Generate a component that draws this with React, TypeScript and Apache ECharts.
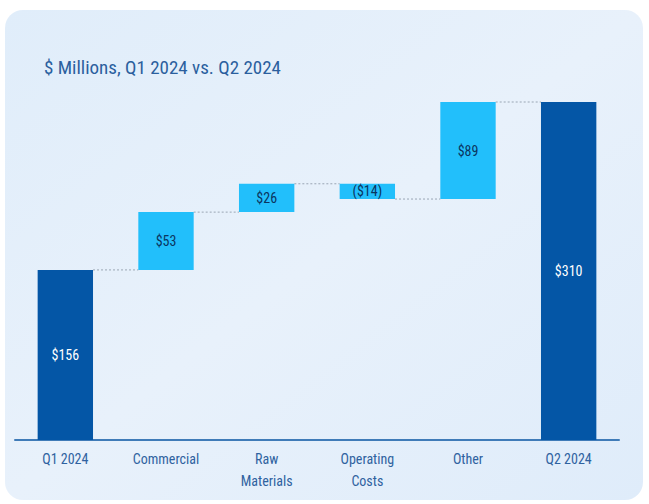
import React, { useEffect, useRef } from "react";
import * as echarts from "echarts";

const categories = ["Q1 2024", "Commercial", "Raw\nMaterials", "Operating\nCosts", "Other", "Q2 2024"];
const deltas = [156, 53, 26, -14, 89, 310];
const labels = ["$156", "$53", "$26", "($14)", "$89", "$310"];
const isTotal = [true, false, false, false, false, true];

const FONT = "'Liberation Sans Narrow', 'Roboto Condensed', 'Liberation Sans', sans-serif";

export default function App() {
  const ref = useRef<HTMLDivElement>(null);
  useEffect(() => {
    if (!ref.current) return;
    const chart = echarts.init(ref.current, undefined, { renderer: "svg" });
    const base: number[] = [];
    const vis: number[] = [];
    const levels: number[] = [];
    let run = 0;
    deltas.forEach((d, i) => {
      if (isTotal[i]) {
        base.push(0);
        vis.push(d);
        run = d;
      } else if (d >= 0) {
        base.push(run);
        vis.push(d);
        run += d;
      } else {
        base.push(run + d);
        vis.push(-d);
        run += d;
      }
      levels.push(run);
    });
    const dark = "#0456a6";
    const light = "#22bffb";
    const barRatio = 0.55;
    chart.setOption({
      animation: false,
      grid: { left: 15, right: 30, top: 102, bottom: 64 },
      graphic: [
        {
          type: "rect",
          z: -10,
          silent: true,
          shape: { x: 5, y: 10, width: 638, height: 490, r: 18 },
          style: {
            fill: new echarts.graphic.LinearGradient(0, 0, 1, 1, [
              { offset: 0, color: "#e0edfa" },
              { offset: 0.5, color: "#e8f1fb" },
              { offset: 1, color: "#dfecfa" },
            ]),
          },
        },
        {
          type: "text",
          left: 44,
          top: 58,
          style: {
            text: "$ Millions, Q1 2024 vs. Q2 2024",
            fill: "#2b5f9e",
            font: `19px ${FONT}`,
          },
        },
      ],
      xAxis: {
        type: "category",
        data: categories,
        axisLine: { lineStyle: { color: "#3f7bb8", width: 2 } },
        axisTick: { show: false },
        axisLabel: {
          color: "#2f62a0",
          fontSize: 14,
          fontFamily: FONT,
          lineHeight: 22,
          margin: 8,
          interval: 0,
        },
      },
      yAxis: {
        type: "value",
        min: 0,
        max: 310,
        show: false,
        splitLine: { show: false },
      },
      series: [
        {
          type: "bar",
          stack: "w",
          data: base,
          itemStyle: { color: "transparent" },
          barWidth: `${barRatio * 100}%`,
          silent: true,
        },
        {
          type: "bar",
          stack: "w",
          barWidth: `${barRatio * 100}%`,
          data: vis.map((v, i) => ({
            value: v,
            itemStyle: { color: isTotal[i] ? dark : light },
            label: {
              show: true,
              position: "inside",
              formatter: labels[i],
              color: isTotal[i] ? "#ffffff" : "#0b355f",
              fontSize: 14,
              fontFamily: FONT,
            },
          })),
        },
        {
          type: "custom",
          silent: true,
          data: levels.slice(0, levels.length - 1).map((lv, i) => [i, lv]),
          renderItem: (params: any, api: any) => {
            const i = api.value(0);
            const lv = api.value(1);
            const p1 = api.coord([i, lv]);
            const p2 = api.coord([i + 1, lv]);
            const half = (api.size([1, 0])[0] * barRatio) / 2;
            return {
              type: "line",
              shape: { x1: p1[0] + half, y1: p1[1], x2: p2[0] - half, y2: p2[1] },
              style: { stroke: "#9aa6b4", lineWidth: 1, lineDash: [2, 2] },
            };
          },
        },
      ],
    });
    return () => chart.dispose();
  }, []);
  return (
    <div
      ref={ref}
      style={{ position: "fixed", left: 0, top: 0, width: 649, height: 504, background: "#ffffff" }}
    />
  );
}
